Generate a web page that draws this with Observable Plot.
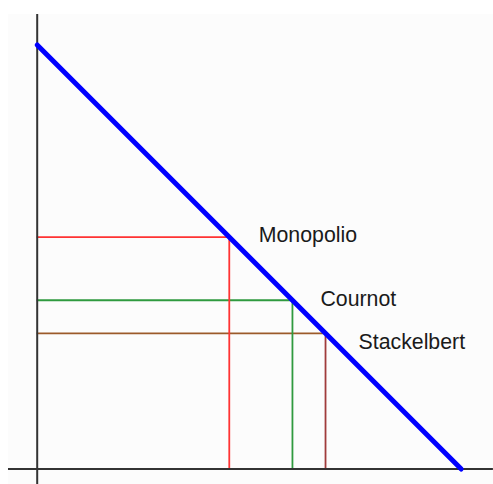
<!DOCTYPE html>
<html>
<head>
<meta charset="utf-8">
<script src="https://cdn.jsdelivr.net/npm/d3@7"></script>
<script src="https://cdn.jsdelivr.net/npm/@observablehq/plot@0.6"></script>
<style>
  html, body { margin: 0; padding: 0; background: #ffffff; }
  #chart svg { display: block; }
</style>
</head>
<body>
<div id="chart"></div>
<script>
// Linear inverse demand P = a - Q and three market outcomes on it
const demandIntercept = 100;
const outcomes = ["Monopolio", "Cournot", "Stackelbert"];
const quantities = [45.3, 60.2, 68.0];
const prices = quantities.map(q => demandIntercept - q);
const hLineColors = ["#ff3333", "#2f9a3f", "#9b5a2a"];
const vLineColors = ["#ff3333", "#2f9a3f", "#a03c3c"];

// Axis extents (quantity and price units)
const xExtent = [-6.77, 107.6];
const yExtent = [-3.66, 107.2];

const demand = [
  {q: 0, p: demandIntercept},
  {q: demandIntercept, p: 0}
];
const points = outcomes.map((name, i) => ({
  name, q: quantities[i], p: prices[i], hc: hLineColors[i], vc: vLineColors[i]
}));

const W = 493, H = 484;
const k = 4.24;          // pixels per unit
const ox = 36.7, oy = 468.5;  // origin in pixels

const labelOffsets = {
  Monopolio: {dx: 29.5, dy: 5},
  Cournot: {dx: 28, dy: 6},
  Stackelbert: {dx: 33, dy: 16}
};

const labelMarks = outcomes.map(name => Plot.text(points.filter(d => d.name === name), {
  x: "q", y: "p", text: "name",
  textAnchor: "start", lineAnchor: "bottom",
  dx: labelOffsets[name].dx, dy: labelOffsets[name].dy,
  fill: "#1a1a1a", fontSize: 21.3,
  fontFamily: "Liberation Sans, Arial, sans-serif"
}));

const chart = Plot.plot({
  width: W, height: H,
  margin: 0,
  x: {domain: [-ox / k, (W - ox) / k], range: [0, W], axis: null},
  y: {domain: [(oy - H) / k, oy / k], range: [H, 0], axis: null},
  style: {background: "#ffffff"},
  marks: [
    Plot.rect([{}], {x1: xExtent[0], x2: xExtent[1], y1: yExtent[0], y2: yExtent[1], fill: "#fcfcfc"}),
    // projections to the axes
    Plot.ruleY(points, {y: "p", x1: 0, x2: "q", stroke: "hc", strokeWidth: 1.8}),
    Plot.ruleX(points, {x: "q", y1: 0, y2: "p", stroke: "vc", strokeWidth: 1.8}),
    // axes
    Plot.ruleX([0], {y1: yExtent[0], y2: yExtent[1], stroke: "#333", strokeWidth: 2}),
    Plot.ruleY([0], {x1: xExtent[0], x2: xExtent[1], stroke: "#333", strokeWidth: 2}),
    // demand curve
    Plot.line(demand, {x: "q", y: "p", stroke: "#0000ff", strokeWidth: 5, strokeLinecap: "round"}),
    ...labelMarks
  ]
});

document.getElementById("chart").appendChild(chart);
</script>
</body>
</html>
